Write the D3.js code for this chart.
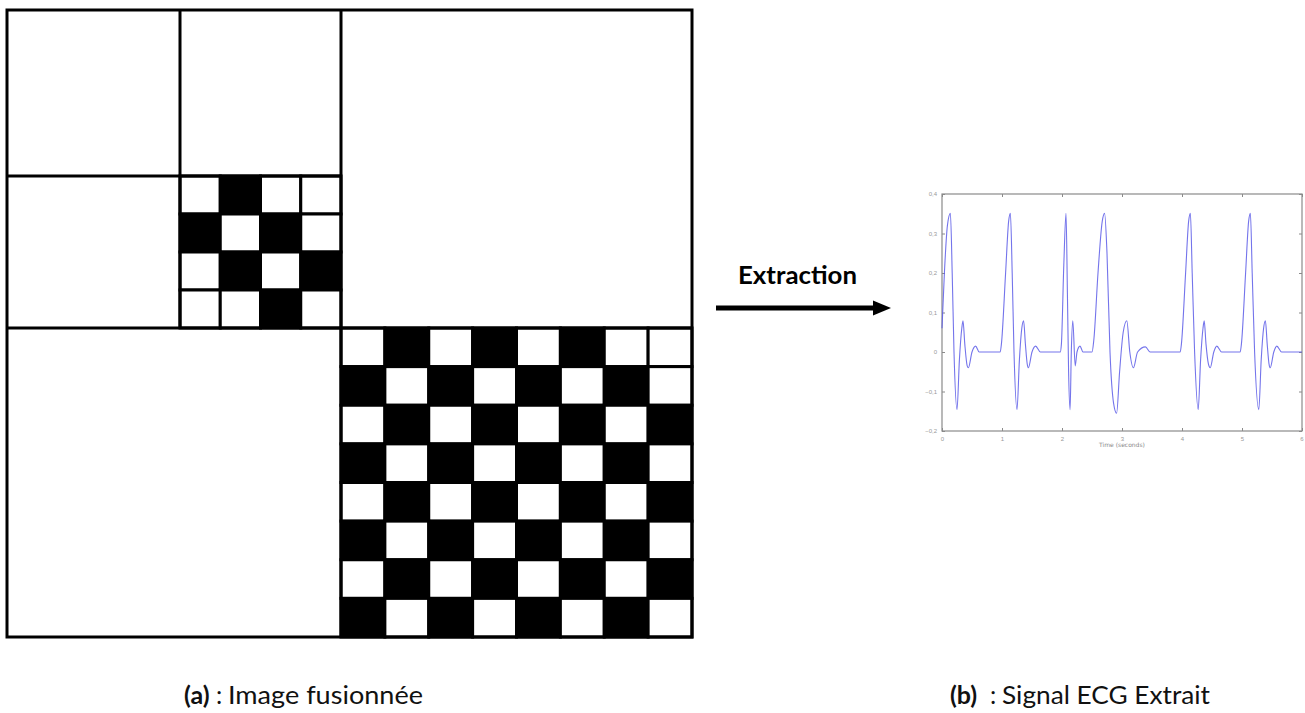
<!DOCTYPE html>
<html>
<head>
<meta charset="utf-8">
<script src="https://cdn.jsdelivr.net/npm/d3@7"></script>
<style>
  body { margin: 0; background: #fff; }
  svg { display: block; }
</style>
</head>
<body>
<svg id="fig" width="1305" height="713"></svg>
<script>
// checker patterns (B = black, W = white)
const small_board = ["WBWW", "BWBW", "WBWB", "WWBW"]
const big_board = [
    "WBWBWBWW",
    "BWBWBWBW",
    "WBWBWBWB",
    "BWBWBWBW",
    "WBWBWBWB",
    "BWBWBWBW",
    "WBWBWBWB",
    "BWBWBWBW"
]

// extracted ECG trace (seconds, amplitude)
const ecg_time = [
    0.00, 0.04, 0.09, 0.14, 0.17, 0.20, 0.25, 0.29, 0.33, 0.35, 0.38, 0.42, 0.44, 0.50, 0.56, 0.62, 0.97,
    0.99, 1.06, 1.11, 1.14, 1.17, 1.20, 1.25, 1.29, 1.33, 1.36, 1.39, 1.42, 1.44, 1.50, 1.56, 1.64, 1.97,
    1.99, 2.03, 2.067, 2.09, 2.11, 2.135, 2.155, 2.18, 2.22, 2.25, 2.30, 2.35, 2.50,
    2.53, 2.60, 2.67, 2.71, 2.75, 2.80, 2.86, 2.91, 2.96, 3.02, 3.08, 3.13, 3.19, 3.26, 3.39, 3.47, 3.97,
    3.99, 4.06, 4.11, 4.14, 4.17, 4.21, 4.27, 4.31, 4.35, 4.37, 4.40, 4.44, 4.47, 4.53, 4.58, 4.66, 4.97,
    4.99, 5.06, 5.11, 5.14, 5.17, 5.21, 5.28, 5.32, 5.36, 5.39, 5.42, 5.45, 5.47, 5.53, 5.58, 5.66, 6.00
]
const ecg_value = [
    0.06, 0.20, 0.32, 0.351, 0.20, 0.00, -0.146, -0.02, 0.06, 0.079, 0.02, -0.035, -0.04, 0.00, 0.015, 0.00, 0.00,
    0.02, 0.20, 0.33, 0.351, 0.20, 0.00, -0.146, -0.02, 0.06, 0.079, 0.02, -0.03, -0.04, 0.00, 0.015, 0.00, 0.00,
    0.02, 0.22, 0.351, 0.15, -0.05, -0.146, 0.00, 0.079, -0.035, 0.00, 0.015, 0.00, 0.00,
    0.03, 0.20, 0.33, 0.351, 0.25, 0.00, -0.13, -0.155, -0.05, 0.05, 0.079, 0.00, -0.04, 0.00, 0.013, 0.00, 0.00,
    0.02, 0.20, 0.33, 0.351, 0.20, 0.00, -0.146, -0.02, 0.06, 0.079, 0.02, -0.03, -0.04, 0.00, 0.015, 0.00, 0.00,
    0.02, 0.20, 0.33, 0.351, 0.20, 0.00, -0.146, -0.02, 0.06, 0.079, 0.02, -0.03, -0.04, 0.00, 0.015, 0.00, 0.00
]
const x_ticks = [0, 1, 2, 3, 4, 5, 6]
const y_ticks = [-0.2, -0.1, 0, 0.1, 0.2, 0.3, 0.4]

const svg = d3.select("#fig")
const line_w = 3

// ---- (a) fused image ----
const frame = {x0: 7, y0: 10, x1: 692, y1: 637}
const mid_x = 341, mid_y = 328
const sub_x = 180, sub_y = 176

function draw_board(pattern, x0, x1, y0, y1) {
    const n = pattern.length
    const bx = d3.scaleBand().domain(d3.range(n)).range([x0, x1])
    const by = d3.scaleBand().domain(d3.range(n)).range([y0, y1])
    const cells = []
    pattern.forEach((row, r) => row.split("").forEach((c, k) => cells.push({r, k, c})))
    svg.append("g").selectAll("rect")
        .data(cells)
        .join("rect")
        .attr("x", d => bx(d.k))
        .attr("y", d => by(d.r))
        .attr("width", bx.bandwidth())
        .attr("height", by.bandwidth())
        .attr("fill", d => d.c == "B" ? "#000" : "#fff")
        .attr("stroke", "#000")
        .attr("stroke-width", line_w)
}

draw_board(small_board, sub_x, mid_x, sub_y, mid_y)
draw_board(big_board, mid_x, frame.x1, mid_y, frame.y1)

const quad_lines = [
    [mid_x, frame.y0, mid_x, frame.y1],
    [frame.x0, mid_y, frame.x1, mid_y],
    [sub_x, frame.y0, sub_x, mid_y],
    [frame.x0, sub_y, mid_x, sub_y]
]
svg.append("g").selectAll("line")
    .data(quad_lines)
    .join("line")
    .attr("x1", d => d[0]).attr("y1", d => d[1])
    .attr("x2", d => d[2]).attr("y2", d => d[3])
    .attr("stroke", "#000")
    .attr("stroke-width", line_w)
svg.append("rect")
    .attr("x", frame.x0).attr("y", frame.y0)
    .attr("width", frame.x1 - frame.x0).attr("height", frame.y1 - frame.y0)
    .attr("fill", "none")
    .attr("stroke", "#000")
    .attr("stroke-width", line_w)

// ---- arrow ----
svg.append("text")
    .attr("x", 738).attr("y", 283.5)
    .attr("font-family", "Lato, 'Open Sans', sans-serif")
    .attr("font-weight", "bold")
    .attr("font-size", 24)
    .attr("textLength", 119)
    .attr("lengthAdjust", "spacingAndGlyphs")
    .text("Extraction")
svg.append("line")
    .attr("x1", 716).attr("y1", 308)
    .attr("x2", 876).attr("y2", 308)
    .attr("stroke", "#000")
    .attr("stroke-width", 5)
svg.append("path")
    .attr("d", "M873,300.5 L891,308 L873,315.5 Z")
    .attr("fill", "#000")

// ---- (b) ECG plot ----
const plot = {left: 942, right: 1302, top: 194, bottom: 431}
const x = d3.scaleLinear().domain([0, 6]).range([plot.left, plot.right])
const y = d3.scaleLinear().domain([-0.2, 0.4]).range([plot.bottom, plot.top])
const axis_color = "#8a8a8a"
const g = svg.append("g").attr("font-family", "'DejaVu Sans', sans-serif")

g.append("rect")
    .attr("x", plot.left).attr("y", plot.top)
    .attr("width", plot.right - plot.left).attr("height", plot.bottom - plot.top)
    .attr("fill", "#fff")
    .attr("stroke", axis_color)
    .attr("stroke-width", 1.2)

const fmt = v => d3.format(".1~f")(v).replace(".", ",").replace("-", "\u2212")

// inward ticks on all four sides, matlab style
const x_axis = g.append("g").attr("transform", `translate(0,${plot.bottom})`)
    .call(d3.axisBottom(x).tickValues(x_ticks).tickSizeInner(-3).tickSizeOuter(0).tickPadding(6).tickFormat(d3.format("d")))
g.append("g").attr("transform", `translate(0,${plot.top})`)
    .call(d3.axisTop(x).tickValues(x_ticks).tickSizeInner(-3).tickSizeOuter(0).tickFormat(""))
g.append("g").attr("transform", `translate(${plot.left},0)`)
    .call(d3.axisLeft(y).tickValues(y_ticks).tickSizeInner(-3).tickSizeOuter(0).tickPadding(5).tickFormat(fmt))
g.append("g").attr("transform", `translate(${plot.right},0)`)
    .call(d3.axisRight(y).tickValues(y_ticks).tickSizeInner(-3).tickSizeOuter(0).tickFormat(""))
g.selectAll(".domain").remove()
g.selectAll(".tick line").attr("stroke", axis_color)
g.selectAll(".tick text").attr("fill", "#999").attr("font-size", 6)
// last x label sits on the page edge
x_axis.selectAll(".tick text").filter(d => d == 6).attr("text-anchor", "end").attr("dx", 1)

g.append("text")
    .attr("x", x(3)).attr("y", 447)
    .attr("text-anchor", "middle")
    .attr("font-size", 6)
    .attr("fill", "#888")
    .text("Time (seconds)")

const ecg = ecg_time.map((t, i) => [t, ecg_value[i]])
g.append("path")
    .datum(ecg)
    .attr("fill", "none")
    .attr("stroke", "#5c5ce8")
    .attr("stroke-opacity", 0.85)
    .attr("stroke-width", 1.1)
    .attr("d", d3.line().x(d => x(d[0])).y(d => y(d[1])).curve(d3.curveMonotoneX))

// ---- captions ----
function caption(tag, tag_x, colon_x, body, body_x, body_w) {
    const t = svg.append("g")
        .attr("font-family", "Lato, 'Open Sans', sans-serif")
        .attr("font-size", 25)
        .attr("fill", "#111")
    t.append("text").attr("x", tag_x).attr("y", 704).attr("font-weight", "bold").text(tag)
    t.append("text").attr("x", colon_x).attr("y", 704).text(":")
    t.append("text").attr("x", body_x).attr("y", 704)
        .attr("textLength", body_w).attr("lengthAdjust", "spacingAndGlyphs")
        .text(body)
}
caption("(a)", 184, 216, "Image fusionnée", 228, 195)
caption("(b)", 950, 990, "Signal ECG Extrait", 1002, 208)
</script>
</body>
</html>
